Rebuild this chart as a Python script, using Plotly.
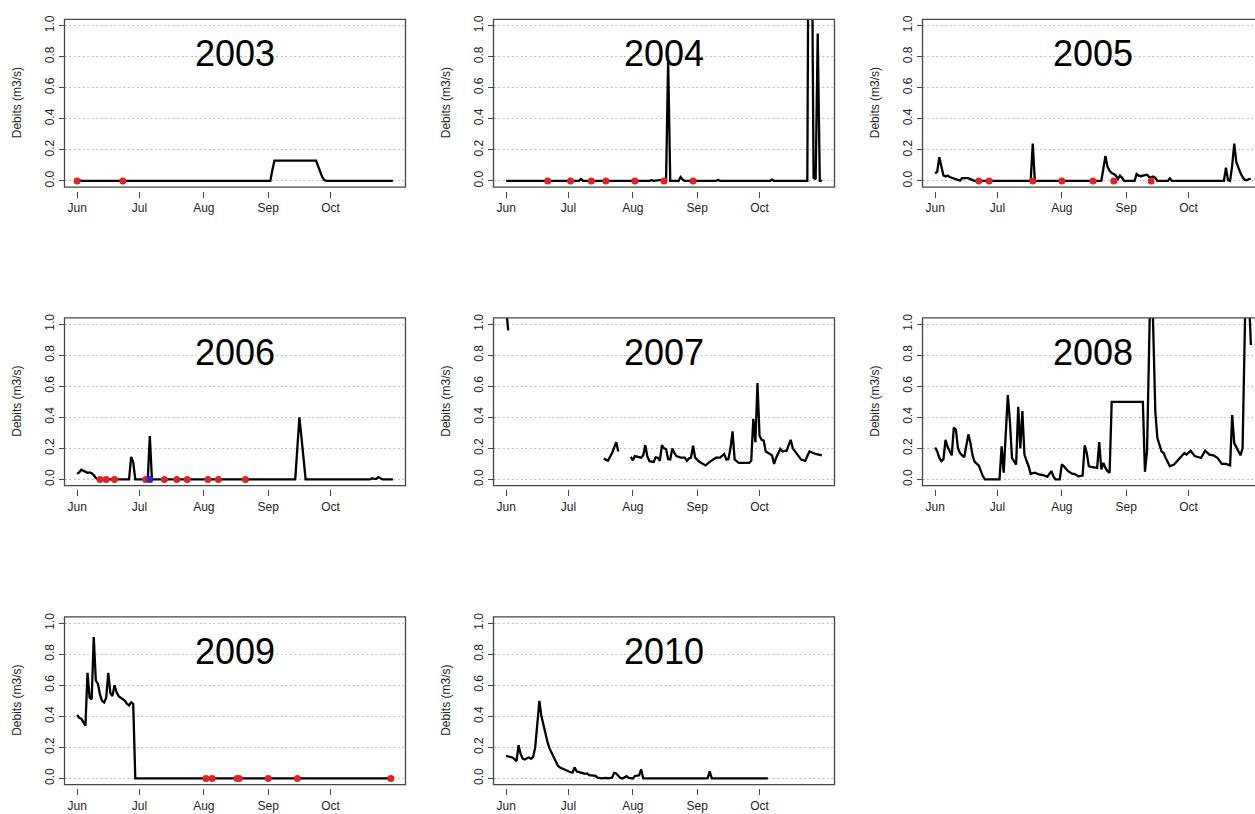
import pandas as pd
import plotly.graph_objects as go

# ---------------------------------------------------------------------------
# Daily discharge (m3/s), June 1 - October 31, one panel per season.
# Each series is given at the vertices of its curve (MM-DD, value).
# None marks a break in the record.
# ---------------------------------------------------------------------------
YEARS = [2003, 2004, 2005, 2006, 2007, 2008, 2009, 2010]

dates_2003 = ["06-01", "06-02", "06-03", "09-02", "09-03", "09-04", "09-24",
              "09-25", "09-26", "09-27", "09-28", "09-29", "10-31"]
flow_2003 = [0.0, 0.004, 0.0, 0.0, 0.07, 0.13, 0.13,
             0.10, 0.06, 0.025, 0.005, 0.0, 0.0]

dates_2004 = ["06-01", "07-06", "07-07", "07-08", "08-09", "08-10", "08-11",
              "08-17", "08-18", "08-19", "08-23", "08-24", "08-25", "08-26",
              "09-10", "09-11", "09-12", "10-06", "10-07", "10-08", "10-24",
              "10-25", "10-26", "10-27", "10-28", "10-29", "10-30", "10-31"]
flow_2004 = [0.0, 0.0, 0.012, 0.0, 0.0, 0.005, 0.0,
             0.01, 0.78, 0.0, 0.0, 0.025, 0.008, 0.0,
             0.0, 0.006, 0.0, 0.0, 0.008, 0.0, 0.0,
             3.0, 2.0, 0.02, 0.01, 0.95, 0.0, 0.0]

dates_2005 = ["06-01", "06-02", "06-03", "06-04", "06-05", "06-06", "06-07",
              "06-08", "06-10", "06-12", "06-13", "06-14", "06-16", "06-17",
              "06-19", "06-20", "07-17", "07-18", "07-19", "07-24", "07-25",
              "07-26", "08-20", "08-22", "08-23", "08-24", "08-25", "08-26",
              "08-27", "08-28", "08-29", "08-30", "08-31", "09-05", "09-06",
              "09-07", "09-08", "09-09", "09-11", "09-12", "09-13", "09-14",
              "09-15", "09-16", "09-21", "09-22", "09-23", "10-18", "10-19",
              "10-20", "10-21", "10-22", "10-23", "10-24", "10-25", "10-26",
              "10-27", "10-28", "10-29", "10-30", "10-31"]
flow_2005 = [0.049, 0.06, 0.152, 0.09, 0.035, 0.028, 0.034,
             0.025, 0.015, 0.006, 0.002, 0.018, 0.02, 0.018,
             0.005, 0.0, 0.0, 0.24, 0.0, 0.0, 0.004,
             0.0, 0.0, 0.16, 0.09, 0.065, 0.05, 0.045,
             0.034, 0.012, 0.034, 0.02, 0.0, 0.0, 0.045,
             0.034, 0.03, 0.034, 0.04, 0.025, 0.023, 0.028,
             0.02, 0.0, 0.0, 0.017, 0.0, 0.0, 0.085,
             0.005, 0.0, 0.1, 0.24, 0.12, 0.08, 0.05,
             0.025, 0.008, 0.004, 0.012, 0.013]

dates_2006 = ["06-01", "06-02", "06-03", "06-04", "06-05", "06-06", "06-07",
              "06-08", "06-09", "06-10", "06-11", "06-26", "06-27", "06-28",
              "06-29", "07-05", "07-06", "07-07", "09-14", "09-15", "09-16",
              "09-17", "09-18", "09-19", "10-20", "10-21", "10-22", "10-23",
              "10-24", "10-25", "10-26", "10-31"]
flow_2006 = [0.036, 0.045, 0.062, 0.055, 0.05, 0.042, 0.045,
             0.04, 0.028, 0.01, 0.0, 0.0, 0.145, 0.11,
             0.0, 0.0, 0.28, 0.0, 0.0, 0.2, 0.4,
             0.27, 0.13, 0.0, 0.0, 0.008, 0.004, 0.004,
             0.015, 0.006, 0.0, 0.0]

dates_2007 = ["06-01", "06-02", "06-03", "07-18", "07-20", "07-22", "07-24",
              "07-25", "07-26", "07-31", "08-01", "08-02", "08-03", "08-04",
              "08-05", "08-06", "08-07", "08-08", "08-09", "08-11", "08-12",
              "08-13", "08-14", "08-15", "08-16", "08-17", "08-18", "08-19",
              "08-20", "08-21", "08-22", "08-24", "08-26", "08-27", "08-28",
              "08-29", "08-30", "08-31", "09-02", "09-05", "09-07", "09-10",
              "09-12", "09-14", "09-15", "09-16", "09-17", "09-18", "09-19",
              "09-21", "09-26", "09-27", "09-28", "09-29", "09-30", "10-01",
              "10-02", "10-03", "10-04", "10-06", "10-07", "10-08", "10-09",
              "10-11", "10-12", "10-14", "10-16", "10-17", "10-19", "10-21",
              "10-23", "10-25", "10-28", "10-31"]
flow_2007 = [1.1, 0.96, None, 0.134, 0.12, 0.17, 0.24,
             0.18, None, 0.145, 0.123, 0.15, 0.145, 0.14,
             0.14, 0.155, 0.22, 0.147, 0.117, 0.113, 0.143,
             0.14, 0.12, 0.22, 0.2, 0.195, 0.13, 0.128,
             0.2, 0.17, 0.15, 0.14, 0.14, 0.12, 0.135,
             0.14, 0.217, 0.14, 0.113, 0.09, 0.113, 0.14,
             0.14, 0.164, 0.128, 0.13, 0.2, 0.31, 0.128,
             0.106, 0.106, 0.12, 0.39, 0.24, 0.62, 0.28,
             0.255, 0.25, 0.18, 0.164, 0.155, 0.1, 0.14,
             0.196, 0.18, 0.185, 0.255, 0.2, 0.16, 0.128,
             0.12, 0.18, 0.164, 0.155]

dates_2008 = ["06-01", "06-02", "06-03", "06-04", "06-05", "06-06", "06-07",
              "06-08", "06-09", "06-10", "06-11", "06-12", "06-13", "06-14",
              "06-15", "06-17", "06-18", "06-19", "06-20", "06-22", "06-23",
              "06-24", "06-25", "07-02", "07-03", "07-04", "07-06", "07-07",
              "07-08", "07-10", "07-11", "07-12", "07-13", "07-14", "07-15",
              "07-16", "07-17", "07-19", "07-21", "07-23", "07-25", "07-27",
              "07-28", "07-29", "07-31", "08-01", "08-02", "08-04", "08-06",
              "08-07", "08-09", "08-11", "08-12", "08-13", "08-14", "08-15",
              "08-18", "08-19", "08-20", "08-21", "08-22", "08-23", "08-24",
              "08-25", "09-09", "09-10", "09-11", "09-13", "09-15", "09-16",
              "09-18", "09-19", "09-20", "09-22", "09-24", "09-26", "09-29",
              "09-30", "10-02", "10-04", "10-07", "10-09", "10-11", "10-13",
              "10-15", "10-17", "10-19", "10-21", "10-22", "10-23", "10-24",
              "10-26", "10-27", "10-29", "10-30", "10-31"]
flow_2008 = [0.206, 0.18, 0.14, 0.117, 0.13, 0.255, 0.21,
             0.18, 0.155, 0.334, 0.32, 0.2, 0.17, 0.155,
             0.143, 0.29, 0.234, 0.155, 0.113, 0.09, 0.05,
             0.02, 0.0, 0.0, 0.213, 0.043, 0.543, 0.372,
             0.138, 0.096, 0.468, 0.2, 0.44, 0.16, 0.12,
             0.085, 0.036, 0.043, 0.032, 0.028, 0.017, 0.053,
             0.017, 0.0, 0.0, 0.096, 0.085, 0.053, 0.036,
             0.036, 0.02, 0.025, 0.22, 0.17, 0.085, 0.08,
             0.074, 0.24, 0.064, 0.106, 0.074, 0.053, 0.043,
             0.5, 0.5, 0.049, 0.18, 1.5, 0.436, 0.266,
             0.18, 0.17, 0.138, 0.085, 0.096, 0.128, 0.17,
             0.16, 0.185, 0.15, 0.138, 0.185, 0.16, 0.155,
             0.138, 0.1, 0.1, 0.09, 0.415, 0.234, 0.206,
             0.155, 0.2, 1.6, 1.2, 0.866]

dates_2009 = ["06-01", "06-02", "06-03", "06-04", "06-05", "06-06", "06-07",
              "06-08", "06-09", "06-10", "06-11", "06-12", "06-13", "06-14",
              "06-15", "06-16", "06-17", "06-18", "06-19", "06-20", "06-21",
              "06-22", "06-23", "06-24", "06-25", "06-26", "06-27", "06-28",
              "06-29", "10-31"]
flow_2009 = [0.41, 0.39, 0.385, 0.36, 0.34, 0.68, 0.52,
             0.51, 0.91, 0.63, 0.61, 0.54, 0.50, 0.49,
             0.52, 0.68, 0.55, 0.53, 0.60, 0.555, 0.53,
             0.52, 0.51, 0.50, 0.48, 0.47, 0.49, 0.48,
             0.0, 0.0]

dates_2010 = ["06-01", "06-02", "06-03", "06-04", "06-05", "06-06", "06-07",
              "06-08", "06-09", "06-10", "06-11", "06-12", "06-13", "06-14",
              "06-15", "06-16", "06-17", "06-18", "06-19", "06-20", "06-21",
              "06-22", "06-23", "06-24", "06-25", "06-26", "06-27", "06-28",
              "06-30", "07-02", "07-03", "07-04", "07-05", "07-07", "07-09",
              "07-10", "07-11", "07-14", "07-15", "07-17", "07-19", "07-20",
              "07-22", "07-23", "07-24", "07-26", "07-27", "07-29", "07-30",
              "08-01", "08-02", "08-04", "08-05", "08-06", "09-06", "09-07",
              "09-08", "10-05"]
flow_2010 = [0.145, 0.143, 0.14, 0.135, 0.124, 0.111, 0.214,
             0.156, 0.128, 0.122, 0.13, 0.135, 0.126, 0.139,
             0.2, 0.34, 0.5, 0.4, 0.34, 0.28, 0.23,
             0.19, 0.16, 0.14, 0.1, 0.08, 0.07, 0.064,
             0.05, 0.04, 0.038, 0.07, 0.045, 0.036, 0.03,
             0.032, 0.021, 0.017, 0.005, 0.0, 0.004, 0.0,
             0.005, 0.036, 0.032, 0.003, 0.0, 0.015, 0.004,
             0.0, 0.015, 0.02, 0.058, 0.0, 0.0, 0.045,
             0.0, 0.0]

# Field observations of a dry bed (red) and of flowing water (blue)
red_2003 = ["06-01", "06-23"]
red_2003_q = [0.0, 0.0]
red_2004 = ["06-21", "07-02", "07-12", "07-19", "08-02", "08-16", "08-30"]
red_2004_q = [0.0, 0.0, 0.0, 0.0, 0.0, 0.0, 0.0]
red_2005 = ["06-22", "06-27", "07-18", "08-01", "08-16", "08-26", "09-13"]
red_2005_q = [0.0, 0.0, 0.0, 0.0, 0.0, 0.0, 0.0]
red_2006 = ["06-12", "06-15", "06-19", "07-04", "07-13", "07-19", "07-24",
            "08-03", "08-08", "08-21"]
red_2006_q = [0.0, 0.0, 0.0, 0.0, 0.0, 0.0, 0.0, 0.0, 0.0, 0.0]
red_2009 = ["08-02", "08-05", "08-17", "08-18", "09-01", "09-15", "10-30"]
red_2009_q = [0.0, 0.0, 0.0, 0.0, 0.0, 0.0, 0.0]
blue_2006 = ["07-06"]
blue_2006_q = [0.0]

SERIES = {
    2003: (dates_2003, flow_2003), 2004: (dates_2004, flow_2004),
    2005: (dates_2005, flow_2005), 2006: (dates_2006, flow_2006),
    2007: (dates_2007, flow_2007), 2008: (dates_2008, flow_2008),
    2009: (dates_2009, flow_2009), 2010: (dates_2010, flow_2010),
}
RED = {2003: (red_2003, red_2003_q), 2004: (red_2004, red_2004_q),
       2005: (red_2005, red_2005_q), 2006: (red_2006, red_2006_q),
       2009: (red_2009, red_2009_q)}
BLUE = {2006: (blue_2006, blue_2006_q)}

MONTH_TICKS = ["06-01", "07-01", "08-01", "09-01", "10-01"]
MONTH_LABELS = ["Jun", "Jul", "Aug", "Sep", "Oct"]
Y_TICKS = [0.0, 0.2, 0.4, 0.6, 0.8, 1.0]
Y_LABELS = ["0.0", "0.2", "0.4", "0.6", "0.8", "1.0"]
Y_TITLE = "Debits (m3/s)"

# ---------------------------------------------------------------------------
# Page geometry (pixels)
# ---------------------------------------------------------------------------
W, H = 1255, 814
COL_X = [64.5, 493.5, 922.5]
ROW_Y = [15.5, 315.5, 616.0]
BOX_W, BOX_H = 341.0, 168.5
SPAN_DAYS = 152.0
PAD_DAYS = 0.04 * SPAN_DAYS
FONT = "Liberation Sans, Arial, Helvetica, sans-serif"
FRAME = "#474747"

fig = go.Figure()
layout = dict(
    width=W, height=H,
    margin=dict(l=0, r=0, t=0, b=0),
    paper_bgcolor="white", plot_bgcolor="white",
    showlegend=False,
    font=dict(family=FONT, size=12, color="#1e1e1e"),
)
shapes, annotations = [], []
day = pd.Timedelta(days=1)
fmt = "%Y-%m-%d %H:%M:%S"

for i, year in enumerate(YEARS):
    r, c = divmod(i, 3)
    n = i + 1
    sfx = "" if n == 1 else str(n)
    left, top = COL_X[c], ROW_Y[r]
    right = min(left + BOX_W, W)
    bottom = top + BOX_H
    px_per_day = BOX_W / (SPAN_DAYS + 2 * PAD_DAYS)

    start = pd.Timestamp(f"{year}-06-01")
    x_lo = start - PAD_DAYS * day
    x_hi = x_lo + ((right - left) / px_per_day) * day

    layout[f"xaxis{sfx}"] = dict(
        type="date", domain=[left / W, right / W],
        range=[x_lo.strftime(fmt), x_hi.strftime(fmt)],
        anchor="free", position=1 - (bottom + 3.7) / H,
        tickvals=[f"{year}-{md}" for md in MONTH_TICKS], ticktext=MONTH_LABELS,
        ticks="outside", ticklen=6, tickwidth=1, tickcolor=FRAME,
        showgrid=False, zeroline=False, showline=False,
        tickfont=dict(size=12), fixedrange=True,
    )
    layout[f"yaxis{sfx}"] = dict(
        domain=[1 - bottom / H, 1 - top / H], range=[-0.04, 1.04],
        anchor=f"x{sfx}",
        tickvals=Y_TICKS, ticktext=Y_LABELS, tickangle=-90,
        ticks="outside", ticklen=5, tickwidth=1, tickcolor=FRAME,
        showgrid=True, gridcolor="#c4c4c4", griddash="2px,2.5px", gridwidth=1,
        zeroline=False, showline=False,
        tickfont=dict(size=12), fixedrange=True,
    )

    md, q = SERIES[year]
    fig.add_trace(go.Scatter(
        x=[f"{year}-{d}" for d in md], y=q, mode="lines",
        line=dict(color="black", width=2.3), connectgaps=False,
        xaxis=f"x{sfx}", yaxis=f"y{sfx}", hoverinfo="skip",
    ))
    for marks, colour in ((RED, "#e52222"), (BLUE, "#2626d9")):
        if year in marks:
            md_p, q_p = marks[year]
            fig.add_trace(go.Scatter(
                x=[f"{year}-{d}" for d in md_p], y=q_p, mode="markers",
                marker=dict(color=colour, size=7, line=dict(width=0)),
                xaxis=f"x{sfx}", yaxis=f"y{sfx}", hoverinfo="skip",
            ))

    # frame around the plotting region
    shapes.append(dict(
        type="rect", xref=f"x{sfx} domain", yref=f"y{sfx} domain",
        x0=0, x1=BOX_W / (right - left), y0=0, y1=1,
        line=dict(color=FRAME, width=1.3), layer="above",
    ))
    # season label inside the panel
    annotations.append(dict(
        text=str(year), xref=f"x{sfx}", yref=f"y{sfx}",
        x=(start + 76 * day).strftime(fmt), y=0.8, yshift=3,
        showarrow=False, xanchor="center", yanchor="middle",
        font=dict(size=36, color="black", family=FONT),
    ))
    # y-axis title
    annotations.append(dict(
        text=Y_TITLE, xref="paper", yref="paper",
        x=(left - 47.5) / W, y=1 - (top + BOX_H / 2) / H,
        textangle=-90, showarrow=False, xanchor="center", yanchor="middle",
        font=dict(size=12, color="#1e1e1e", family=FONT),
    ))

layout["shapes"] = shapes
layout["annotations"] = annotations
fig.update_layout(**layout)
fig.write_html("out.html")
